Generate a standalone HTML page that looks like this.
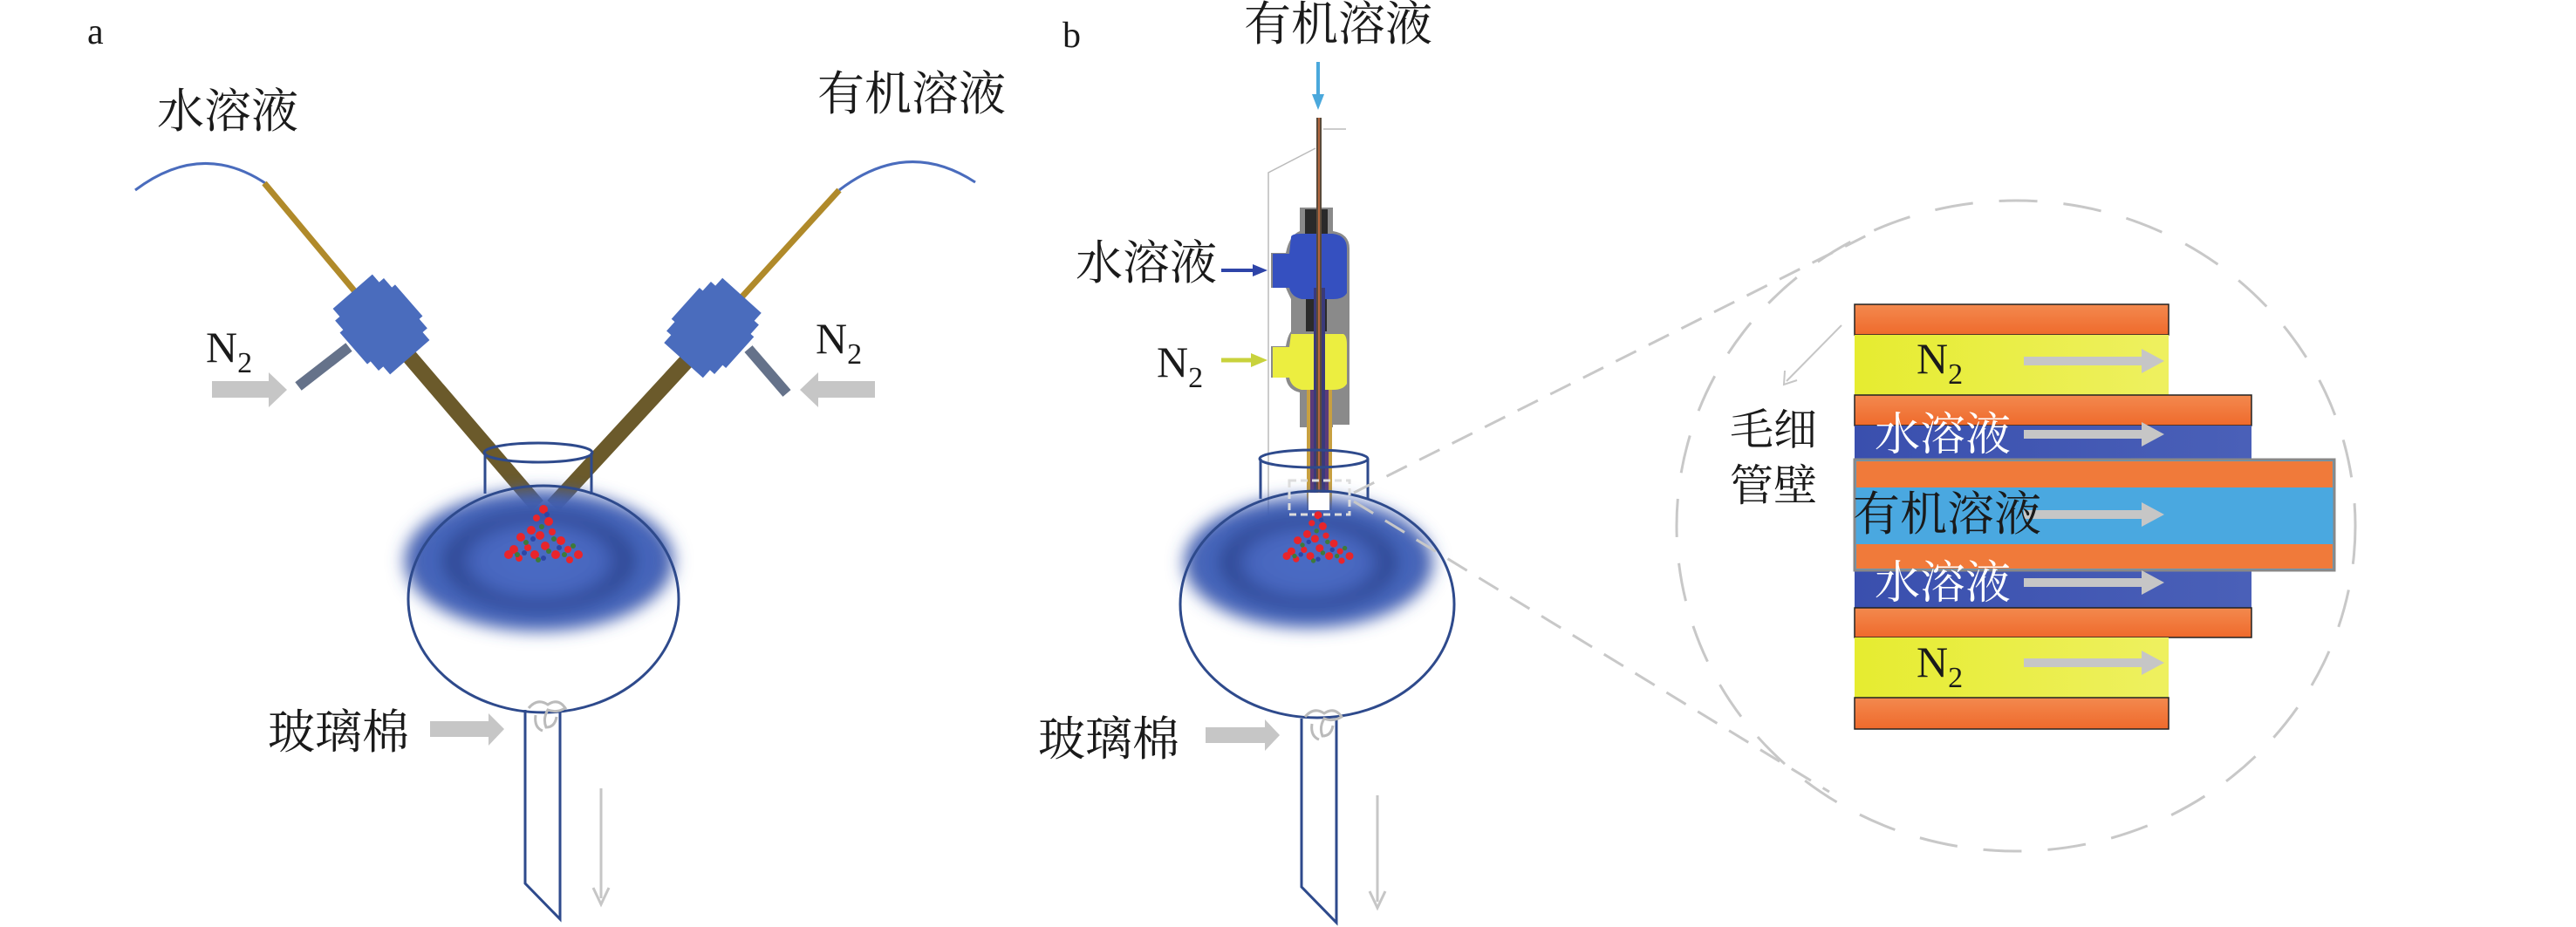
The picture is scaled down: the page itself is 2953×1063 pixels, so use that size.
<!DOCTYPE html>
<html><head><meta charset="utf-8"><style>
html,body{margin:0;padding:0;background:#fff;}
svg{display:block;}
text{font-family:"Liberation Serif","Noto Serif CJK SC",serif;fill:#1a1a1a;}
</style></head><body>
<svg width="2953" height="1063" viewBox="0 0 2953 1063" xmlns="http://www.w3.org/2000/svg">
<defs>
<radialGradient id="blob" cx="50%" cy="50%" r="50%">
<stop offset="0" stop-color="#4a6cc4"/>
<stop offset="0.45" stop-color="#4766bf"/>
<stop offset="0.62" stop-color="#2c4590"/>
<stop offset="0.78" stop-color="#4a6cc4"/>
<stop offset="0.92" stop-color="#3c57a8"/>
<stop offset="1" stop-color="#4a6cc4" stop-opacity="0"/>
</radialGradient>
<filter id="bl" x="-30%" y="-30%" width="160%" height="160%"><feGaussianBlur stdDeviation="9"/></filter>
<linearGradient id="or" x1="0" y1="0" x2="0" y2="1"><stop offset="0" stop-color="#f3894e"/><stop offset="1" stop-color="#ef6a2c"/></linearGradient>
<linearGradient id="bl2" x1="0" y1="0" x2="1" y2="0"><stop offset="0" stop-color="#3a4fae"/><stop offset="1" stop-color="#4a60b8"/></linearGradient>
<linearGradient id="ye" x1="0" y1="0" x2="1" y2="0"><stop offset="0" stop-color="#e6ec30"/><stop offset="1" stop-color="#eef060"/></linearGradient>
<g id="particles">
<g fill="#e8252b">
<circle cx="0" cy="-38" r="5"/><circle cx="-8" cy="-28" r="4"/><circle cx="6" cy="-24" r="5"/><circle cx="-14" cy="-14" r="5"/><circle cx="10" cy="-12" r="4"/><circle cx="-26" cy="-6" r="5"/><circle cx="-4" cy="-8" r="5"/><circle cx="20" cy="-2" r="5"/><circle cx="-34" cy="8" r="5"/><circle cx="-18" cy="6" r="4"/><circle cx="2" cy="4" r="5"/><circle cx="28" cy="8" r="4"/><circle cx="-40" cy="14" r="5"/><circle cx="-10" cy="14" r="5"/><circle cx="14" cy="14" r="5"/><circle cx="40" cy="14" r="5"/><circle cx="-28" cy="18" r="4"/><circle cx="30" cy="20" r="4"/>
</g>
<g fill="#3d7a3a"><circle cx="-2" cy="-18" r="3"/><circle cx="-20" cy="0" r="3"/><circle cx="12" cy="-4" r="3"/><circle cx="-30" cy="14" r="3"/><circle cx="6" cy="10" r="3"/><circle cx="24" cy="14" r="3"/><circle cx="-6" cy="20" r="3"/><circle cx="34" cy="4" r="3"/></g>
<g fill="#2d46a6"><circle cx="4" cy="-32" r="3"/><circle cx="-12" cy="-4" r="3"/><circle cx="18" cy="6" r="3"/><circle cx="-22" cy="12" r="3"/><circle cx="0" cy="18" r="3"/></g>
</g>
<g id="conn">
<rect x="-50" y="-30" width="100" height="60" fill="#4a6cbd"/>
<rect x="-38" y="-37" width="76" height="74" fill="#4a6cbd"/>
<rect x="-24" y="-42" width="48" height="84" fill="#4a6cbd"/>
</g>
</defs>

<!-- ============ PANEL a ============ -->
<text x="100" y="50" font-size="42">a</text>
<text x="180" y="146" font-size="54">水溶液</text>
<text x="937" y="126" font-size="54">有机溶液</text>

<!-- arcs -->
<path d="M155,218 Q232,160 307,212" fill="none" stroke="#4a6cbd" stroke-width="3"/>
<path d="M962,218 Q1040,158 1118,209" fill="none" stroke="#4a6cbd" stroke-width="3"/>
<!-- gold tubes -->
<line x1="303" y1="210" x2="420" y2="350" stroke="#b08a2a" stroke-width="7"/>
<line x1="962" y1="218" x2="840" y2="352" stroke="#b08a2a" stroke-width="7"/>
<!-- gray side tubes -->
<line x1="342" y1="443" x2="400" y2="398" stroke="#65728a" stroke-width="12"/>
<line x1="902" y1="451" x2="858" y2="400" stroke="#65728a" stroke-width="12"/>
<!-- brown tubes -->
<line x1="460" y1="398" x2="616" y2="580" stroke="#6b5a2b" stroke-width="18"/>
<line x1="800" y1="400" x2="634" y2="580" stroke="#6b5a2b" stroke-width="18"/>
<!-- connectors -->
<use href="#conn" transform="translate(437,372) rotate(49)"/>
<use href="#conn" transform="translate(817,376) rotate(132)"/>

<!-- N2 labels -->
<text x="236" y="415" font-size="50">N<tspan font-size="34" dy="12">2</tspan></text>
<text x="935" y="405" font-size="50">N<tspan font-size="34" dy="12">2</tspan></text>
<!-- gray arrows -->
<path d="M243,437 H308 V427 L329,447 L308,467 V456 H243 Z" fill="#c6c6c6"/>
<path d="M1003,437 H938 V427 L917,447 L938,467 V456 H1003 Z" fill="#c6c6c6"/>

<!-- flask a -->
<line x1="556" y1="519" x2="556" y2="566" stroke="#2e4a8c" stroke-width="3"/>
<line x1="678" y1="519" x2="678" y2="567" stroke="#2e4a8c" stroke-width="3"/>
<ellipse cx="617" cy="519" rx="62" ry="11" fill="none" stroke="#2e4a8c" stroke-width="3"/>
<ellipse cx="618" cy="643" rx="160" ry="84" fill="url(#blob)" filter="url(#bl)"/>
<ellipse cx="623" cy="687" rx="155" ry="130" fill="none" stroke="#2e4a8c" stroke-width="3"/>
<use href="#particles" transform="translate(623,622)"/>
<path d="M602,814 V1013 L642,1054 V814" fill="none" stroke="#2e4a8c" stroke-width="3"/>
<path d="M606,812 q10,-12 22,-4 q12,-8 20,4 q-10,6 -20,2 q-6,10 -2,20 q10,0 12,-12 M614,820 q-2,14 8,18" fill="none" stroke="#bbbbbb" stroke-width="3"/>
<text x="307" y="858" font-size="54">玻璃棉</text>
<path d="M493,827 H560 V818 L578,836 L560,855 V845 H493 Z" fill="#c6c6c6"/>
<line x1="689" y1="904" x2="689" y2="1030" stroke="#c6c6c6" stroke-width="3"/>
<path d="M680,1018 L689,1037 L698,1018" fill="none" stroke="#c6c6c6" stroke-width="3"/>

<!-- ============ PANEL b ============ -->
<text x="1218" y="54" font-size="42">b</text>
<text x="1426" y="46" font-size="54">有机溶液</text>
<line x1="1511" y1="71" x2="1511" y2="115" stroke="#4aa8dc" stroke-width="4"/>
<path d="M1504,108 L1511,126 L1518,108 Z" fill="#4aa8dc"/>

<!-- housing outline -->
<path d="M1454,590 V198 L1508,170" fill="none" stroke="#bbb" stroke-width="1.5"/>
<path d="M1517,148 H1543" fill="none" stroke="#bbb" stroke-width="1.5"/>
<!-- housing body -->
<path d="M1490,238 H1528 V265 Q1547,268 1547,285 V487 H1528 V490 H1490 V450 Q1476,447 1474,433 L1457,433 V397 L1474,397 Q1476,385 1480,380 V343 Q1476,335 1474,330 L1457,330 V290 L1474,290 Q1478,270 1490,265 Z" fill="#8a8a8a"/>
<path d="M1480,272 Q1480,268 1492,268 H1528 Q1544,270 1544,285 V336 Q1540,343 1528,343 H1492 Q1480,340 1478,330 H1459 V291 H1478 Z" fill="#3550c0"/>
<path d="M1480,383 H1540 Q1544,385 1544,395 V440 Q1540,447 1528,447 H1492 Q1480,444 1478,433 H1459 V398 H1478 Z" fill="#ecee40"/>
<rect x="1496" y="240" width="26" height="28" fill="#2a2a2a"/>
<rect x="1497" y="343" width="24" height="37" fill="#2a2a2a"/>
<!-- inner tubes -->
<rect x="1498" y="447" width="29" height="138" fill="#c8a040"/>
<rect x="1502" y="447" width="21" height="138" fill="#5b3b7a"/>
<rect x="1506" y="330" width="13" height="255" fill="#3a3a7a"/>
<rect x="1509" y="135" width="6" height="450" fill="#5a4a3a"/>
<line x1="1512" y1="135" x2="1512" y2="585" stroke="#d07040" stroke-width="1.5"/>
<!-- arrows -->
<line x1="1400" y1="310" x2="1440" y2="310" stroke="#2e44a8" stroke-width="4"/>
<path d="M1436,303 L1453,310 L1436,317 Z" fill="#2e44a8"/>
<line x1="1400" y1="413" x2="1440" y2="413" stroke="#c8d23c" stroke-width="5"/>
<path d="M1434,405 L1453,413 L1434,421 Z" fill="#c8d23c"/>
<text x="1233" y="320" font-size="54">水溶液</text>
<text x="1326" y="432" font-size="50">N<tspan font-size="34" dy="12">2</tspan></text>

<!-- flask b -->
<line x1="1445" y1="526" x2="1445" y2="572" stroke="#2e4a8c" stroke-width="3"/>
<line x1="1568" y1="526" x2="1568" y2="572" stroke="#2e4a8c" stroke-width="3"/>
<ellipse cx="1506" cy="526" rx="62" ry="10" fill="none" stroke="#2e4a8c" stroke-width="3"/>
<ellipse cx="1500" cy="645" rx="148" ry="78" fill="url(#blob)" filter="url(#bl)"/>
<ellipse cx="1510" cy="693" rx="157" ry="130" fill="none" stroke="#2e4a8c" stroke-width="3"/>
<rect x="1500" y="565" width="24" height="20" fill="#fff"/>
<rect x="1478" y="551" width="69" height="39" fill="none" stroke="#ddd" stroke-width="3" stroke-dasharray="8,5"/>
<use href="#particles" transform="translate(1511,625) scale(0.9)"/>
<path d="M1492,824 V1017 L1532,1058 V824" fill="none" stroke="#2e4a8c" stroke-width="3"/>
<path d="M1496,822 q10,-12 22,-4 q12,-8 20,4 q-10,6 -20,2 q-6,10 -2,20 q10,0 12,-12 M1504,830 q-2,14 8,18" fill="none" stroke="#bbbbbb" stroke-width="3"/>
<text x="1190" y="866" font-size="54">玻璃棉</text>
<path d="M1382,834 H1450 V825 L1467,843 L1450,861 V852 H1382 Z" fill="#c6c6c6"/>
<line x1="1579" y1="912" x2="1579" y2="1034" stroke="#c6c6c6" stroke-width="3"/>
<path d="M1570,1022 L1579,1041 L1588,1022" fill="none" stroke="#c6c6c6" stroke-width="3"/>

<!-- zoom dashed lines -->
<line x1="1552" y1="565" x2="2144" y2="268" stroke="#c8c8c8" stroke-width="3" stroke-dasharray="26,16"/>
<line x1="1552" y1="575" x2="2097" y2="908" stroke="#c8c8c8" stroke-width="3" stroke-dasharray="26,16"/>
<ellipse cx="2311" cy="603" rx="389" ry="373" fill="none" stroke="#c8c8c8" stroke-width="3" stroke-dasharray="44,30"/>

<!-- layers -->
<rect x="2126" y="349" width="360" height="35" fill="url(#or)" stroke="#222" stroke-width="1.5"/>
<rect x="2126" y="384" width="360" height="69" fill="url(#ye)"/>
<rect x="2126" y="453" width="455" height="35" fill="url(#or)" stroke="#222" stroke-width="1.5"/>
<rect x="2126" y="488" width="455" height="39" fill="url(#bl2)"/>
<rect x="2126" y="654" width="455" height="43" fill="url(#bl2)"/>
<rect x="2126" y="697" width="455" height="34" fill="url(#or)" stroke="#222" stroke-width="1.5"/>
<rect x="2126" y="731" width="360" height="69" fill="url(#ye)"/>
<rect x="2126" y="800" width="360" height="36" fill="url(#or)" stroke="#222" stroke-width="1.5"/>
<rect x="2126" y="527" width="550" height="127" fill="#4aa8e0" stroke="#888" stroke-width="3"/>
<rect x="2128" y="529" width="546" height="30" fill="#f07a3a"/>
<rect x="2128" y="624" width="546" height="28" fill="#f07a3a"/>

<!-- layer arrows -->
<g fill="#c6c6c6">
<path d="M2320,409 H2455 V400 L2481,414 L2455,428 V419 H2320 Z"/>
<path d="M2320,493 H2455 V484 L2481,498 L2455,512 V503 H2320 Z"/>
<path d="M2320,585 H2455 V576 L2481,590 L2455,604 V595 H2320 Z"/>
<path d="M2320,663 H2455 V654 L2481,668 L2455,682 V673 H2320 Z"/>
<path d="M2320,755 H2455 V746 L2481,760 L2455,774 V765 H2320 Z"/>
</g>
<text x="2197" y="428" font-size="50">N<tspan font-size="34" dy="12">2</tspan></text>
<text x="2149" y="516" font-size="52" style="fill:#fff">水溶液</text>
<text x="2124" y="608" font-size="54">有机溶液</text>
<text x="2149" y="686" font-size="52" style="fill:#fff">水溶液</text>
<text x="2197" y="776" font-size="50">N<tspan font-size="34" dy="12">2</tspan></text>

<text x="1983" y="510" font-size="50">毛细</text>
<text x="1983" y="574" font-size="50">管壁</text>
<line x1="2111" y1="373" x2="2048" y2="437" stroke="#c6c6c6" stroke-width="2"/>
<path d="M2046,425 L2045,441 L2060,436" fill="none" stroke="#c6c6c6" stroke-width="2"/>
</svg>
</body></html>
